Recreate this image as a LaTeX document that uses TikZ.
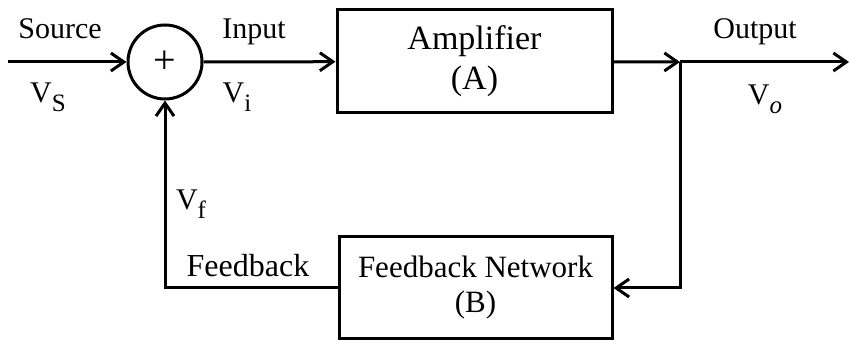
\documentclass[tikz,border=0pt]{standalone}
\usepackage{fontspec}
\setmainfont{Liberation Serif}
\usetikzlibrary{arrows.meta}
\newcommand{\lowsub}[1]{\raisebox{-4.5pt}{\fontsize{12.5}{15}\selectfont #1}}

\begin{document}
\begin{tikzpicture}[
    x=0.5pt, y=0.5pt,
    line width=1.5pt,
    block/.style={draw, line width=1.5pt, align=center, inner sep=0pt},
    summer/.style={draw, circle, minimum size=37pt, inner sep=0pt, font=\fontsize{20}{24}\selectfont},
    lab/.style={font=\fontsize{15}{18}\selectfont, anchor=base},
    flow/.style={-{Straight Barb[length=6.5pt,width=9pt]}},
  ]
  \useasboundingbox (0,0) rectangle (850,341);

  % blocks
  \node[summer] (sum) at (165,279) {+};
  \node[block, minimum width=137.5pt, minimum height=51.5pt, font=\fontsize{17}{20}\selectfont] (amp) at (474.5,279.5) {Amplifier\\(A)};
  \node[block, minimum width=136.5pt, minimum height=51pt, font=\fontsize{15.5}{17.5}\selectfont] (fbnet) at (475.5,53) {Feedback Network\\(B)};

  % free ends
  \coordinate (src) at (8,279);
  \coordinate (jn) at (680,279);
  \coordinate (out) at (849,279);

  % forward path
  \draw[flow] (src) -- (sum);
  \draw[flow] (sum) -- (amp);
  \draw[flow] (amp) -- (jn);
  \draw[flow] (jn) -- (out);

  % feedback path
  \draw[flow] (jn) |- (fbnet.east);
  \draw[flow] (fbnet) -| (sum);

  % signal labels
  \node[lab] (srclab) at (60,302) {Source};
  \node[lab] (inlab) at (254,302) {Input};
  \node[lab] (outlab) at (755,302) {Output};
  \node[lab] (vs) at (48,238) {V\lowsub{S}};
  \node[lab] (vi) at (237,238) {V\lowsub{i}};
  \node[lab] (vo) at (765,236) {V\lowsub{\textit{o}}};
  \node[lab] (vf) at (191,131) {V\lowsub{f}};
  \node[lab, font=\fontsize{16}{19}\selectfont] (fblab) at (248,64) {Feedback};

\end{tikzpicture}
\end{document}
